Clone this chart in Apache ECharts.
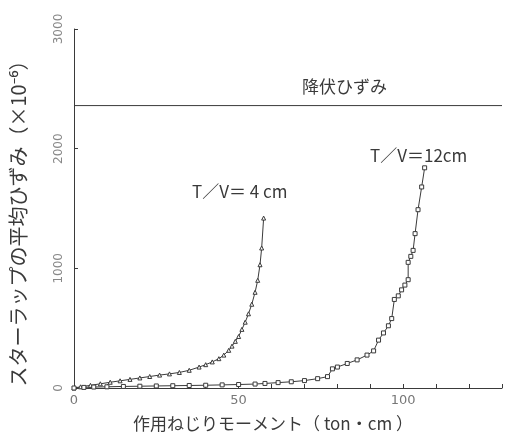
<!DOCTYPE html>
<html><head><meta charset="utf-8">
<script src="https://cdn.jsdelivr.net/npm/echarts@6/dist/echarts.min.js"></script>
<style>html,body{margin:0;padding:0;background:#fff}#c{width:505px;height:437px}</style>
</head><body><div id="c"></div>
<script>
const x4 = [0,2,5,8,11,14,17,20,23,26,29,32,35,38,40,42,44,45.5,47,48,49,50,51,52,53,54,55,55.8,56.5,57,57.6];
const y4 = [0,10,22,35,48,60,72,84,96,108,118,130,148,175,195,218,245,275,315,350,390,430,490,550,620,700,800,900,1030,1170,1420];
const x12 = [0,3,6,10,15,20,25,30,35,40,45,50,55,58,62,66,70,74,77,78.5,80,83,86,89,91,92.5,94,95.5,96.5,97.3,98.5,99.5,100.5,101.5,101.5,102.3,103,103.6,104.5,105.6,106.5];
const y12 = [0,5,8,10,13,15,17,19,21,23,26,29,33,38,45,52,62,78,95,160,175,205,235,275,310,400,460,520,580,740,770,820,860,905,1050,1100,1150,1290,1490,1680,1840];
const yieldX = [0,130];
const yieldY = [2360,2360];
const xTickLabels = [0,50,100];
const yTickLabels = [0,1000,2000,3000];
const seriesNames = ['T／V＝4cm','T／V＝12cm','降伏ひずみ'];

const zip = (a,b)=>a.map((v,i)=>[v,b[i]]);
const ink = '#3a3a3a';
const font = '"Noto Sans CJK JP", "Noto Sans", sans-serif';
const chart = echarts.init(document.getElementById('c'));
chart.setOption({
  backgroundColor:'#fff',
  animation:false,
  grid:{left:66,right:1,top:29,bottom:48},
  xAxis:{type:'value',min:0,max:130,interval:10,
    name:'作用ねじりモーメント（ ton・cm ）',nameLocation:'middle',nameGap:27,
    nameTextStyle:{fontFamily:font,fontSize:17,color:ink,padding:[0,30,0,0]},
    axisLine:{lineStyle:{color:ink,width:1}},
    axisTick:{show:true,inside:true,length:4,lineStyle:{color:ink}},
    axisLabel:{color:'#777',fontSize:13,fontFamily:'DejaVu Sans',margin:6,
      formatter:v=>xTickLabels.includes(v)?String(v):''},
    splitLine:{show:false}},
  yAxis:{type:'value',min:0,max:3000,interval:1000,
    name:'スターラップの平均ひずみ（×10⁻⁶）',nameLocation:'middle',nameGap:46,nameRotate:90,
    nameTextStyle:{fontFamily:font,fontSize:20,color:ink,padding:[0,20,0,0]},
    axisLine:{show:true,lineStyle:{color:ink,width:1}},
    axisTick:{show:true,inside:true,length:4,lineStyle:{color:ink}},
    axisLabel:{color:'#888',fontSize:12,fontFamily:'DejaVu Sans',rotate:90,margin:9,
      formatter:v=>yTickLabels.includes(v)?String(v):''},
    splitLine:{show:false}},
  series:[
    {name:seriesNames[0],type:'line',data:zip(x4,y4),symbol:'triangle',symbolSize:4,
      lineStyle:{color:ink,width:1},itemStyle:{color:'#fff',borderColor:ink,borderWidth:1}},
    {name:seriesNames[1],type:'line',data:zip(x12,y12),symbol:'rect',symbolSize:4,
      lineStyle:{color:ink,width:1},itemStyle:{color:'#fff',borderColor:ink,borderWidth:1}},
    {name:seriesNames[2],type:'line',data:zip(yieldX,yieldY),symbol:'none',
      lineStyle:{color:ink,width:1}}
  ],
  graphic:[
    {type:'text',left:302,top:78,style:{text:'降伏ひずみ',font:'17px '+font,fill:ink}},
    {type:'text',left:370,top:147,style:{text:'T／V＝12cm',font:'17px '+font,fill:ink}},
    {type:'text',left:192,top:183,style:{text:'T／V＝ 4 cm',font:'17px '+font,fill:ink}}
  ]
});
</script></body></html>
